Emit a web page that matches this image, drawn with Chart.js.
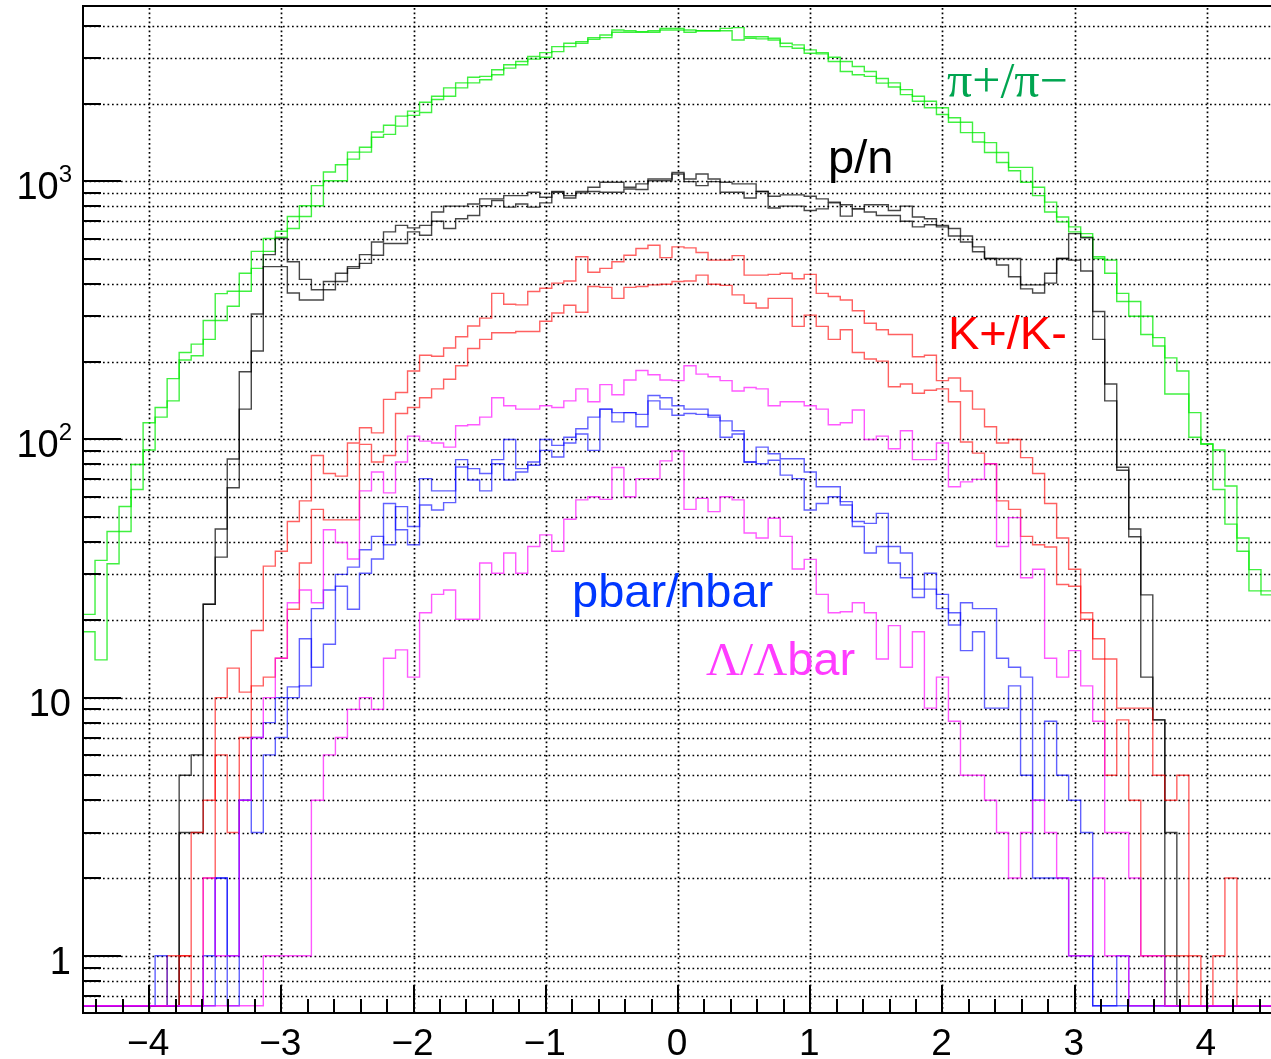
<!DOCTYPE html>
<html><head><meta charset="utf-8">
<script src="https://cdn.jsdelivr.net/npm/chart.js@4.4.1/dist/chart.umd.min.js"></script>
<style>
html,body{margin:0;padding:0;background:#fff;overflow:hidden;}
#wrap{width:1271px;height:1059px;overflow:hidden;position:relative;background:#fff;}
canvas{display:block;}
</style></head><body>
<div id="wrap"><canvas id="c" width="1280" height="1059"></canvas></div>
<script>
// ---- binning / axes ----
const X_MIN = -4.5, X_MAX = 4.5, N_BINS = 99;
const Y_MIN = 0.64, Y_MAX = 4775;
const xTickValues = [-4, -3, -2, -1, 0, 1, 2, 3, 4];
const xTickLabels = ['\u22124', '\u22123', '\u22122', '\u22121', '0', '1', '2', '3', '4'];
const yDecades = [1, 10, 100, 1000];
const yDecadeBase = ['1', '10', '10', '10'];
const yDecadeSup = ['', '', '2', '3'];
const yGridValues = [0.7, 0.8, 0.9,
  1, 2, 3, 4, 5, 6, 7, 8, 9,
  10, 20, 30, 40, 50, 60, 70, 80, 90,
  100, 200, 300, 400, 500, 600, 700, 800, 900,
  1000, 2000, 3000, 4000];

// ---- series (counts per bin, 99 bins from -4.5 to 4.5) ----
const piPlus = [21,34,44,55,80,116,133,172,217,234,
289,367,375,440,535,600,640,730,804,962,
1086,1159,1297,1354,1552,1648,1788,1870,2024,2135,
2300,2405,2530,2548,2704,2826,2910,3043,3150,3323,
3426,3475,3600,3686,3855,3830,3800,3830,3910,3910,
3855,3830,3830,3910,3936,3630,3630,3580,3426,3375,
3228,3150,3025,2910,2785,2663,2500,2405,2265,2135,
2042,1926,1762,1694,1543,1412,1293,1132,1132,948,
830,727,666,627,510,495,368,342,300,248,
207,184,127,96,91,66,41.5,31.3,25.9];
const piMinus = [18,14,33,44,64,91,122,141,203,211,
244,289,328,375,460,535,607,656,730,804,
1005,1005,1219,1297,1480,1520,1636,1800,1848,2074,
2135,2300,2405,2473,2587,2744,2826,2972,3025,3178,
3323,3426,3550,3600,3777,3777,3777,3777,3855,3855,
3777,3830,3830,3830,3525,3580,3560,3525,3323,3277,
3133,3115,2910,2663,2587,2548,2400,2318,2166,2042,
1926,1815,1694,1543,1420,1293,1183,1099,991,880,
760,696,637,609,502,440,342,300,255,230,
150,150,102,96,64,47,36.9,25.9,25.0];
const proton = [0,0,0,0,0,0,0,0,5,6,
23,45,84,183,306,520,600,488,417,380,
409,440,467,520,582,637,675,660,675,760,
801,801,817,855,855,880,880,907,867,913,
880,913,948,991,991,948,977,1021,1021,1083,
1021,1067,1021,991,977,977,913,875,886,886,
875,855,830,811,782,811,811,771,801,727,
716,675,656,614,557,502,474,427,397,397,
440,502,627,604,313,164,78,45,25,8.2,
3,0,0,0,0,0,0,0,0];
const neutron = [0,0,0,0,0,0,0,0,3,3,
23,35,65,131,220,467,467,369,347,347,
380,409,460,481,517,574,574,637,618,700,
656,716,737,805,842,794,817,794,825,907,
861,902,913,907,907,934,929,1005,1005,1067,
997,962,997,907,907,861,913,788,801,801,
771,782,825,733,782,760,737,737,700,666,
679,666,614,582,533,502,502,502,383,369,
403,502,495,449,244,141,76,42,12,8.2,
0,0,0,0,0,0,0,0,0];
const kPlus = [0,0,0,0,0,0,0,1,1,3,
4,10,13,10.5,18.2,32.3,36.9,48.1,57.8,86.7,
73.8,72.1,96.8,111,106,143,152,184,212,210,
226,250,275,295,368,334,332,374,385,403,
411,510,444,460,488,517,549,565,506,557,
552,530,495,495,515,433,433,436,440,419,
436,368,358,347,315,282,266,255,255,209,
212,169,173,154,131,112,96.8,100,85,73.8,
56.5,41.5,31.4,21.3,16.9,14.1,9.1,9.1,9.1,5,
4,5,0,0,0,0,0,0,0];
const kMinus = [0,0,0,0,0,0,0,0,1,0,
2,6,3,7,11.1,12,14.2,22,33.2,53.6,
48.8,48.8,48.8,95.7,81.8,86.7,126,133,145,157,
171,193,225,244,259,259,262,262,287,309,
331,311,391,388,352,388,391,397,399,409,
411,433,399,395,363,337,323,352,352,274,
303,274,244,266,217,205,201,160,164,151,
155,157,140,97.7,88.5,80.5,57.8,53.6,42.1,39.1,
38.3,27.4,27,20.1,14.1,5,8.2,4,1,1,
1,1,1,0,1,2,0,0,0];
const pbar = [0,0,0,0,0,0,1,0,0,0,
0,2,0,4,7,8,10,11,16.9,13.1,
16.1,30,32,37.4,42.1,39.1,54.9,46,70.5,63.2,
63.2,83.5,77.1,73.8,83.5,100,77.1,81.8,100,94.8,
102,110,122,131,117,127,125,148,145,135,
131,131,124,118,108,81.8,93.4,88,84.2,84.2,
74.8,65.6,65.6,57.4,48.1,47.3,51.7,33.2,29.1,24.4,
30.3,22.1,19.1,23.3,22.1,22.1,14.2,13.1,12,4,
8.1,5,4,3,0,0,1,0,0,0,
0,0,0,0,0,0,0,0,0];
const nbar = [0,0,0,0,0,0,0,0,0,0,
1,2,1,4,3,6,7,10,11.1,22.1,
26.1,27,22,30.3,34.4,56.5,44.7,39.1,55.7,53.3,
56.9,78.2,69.6,63.2,80.5,69.6,74.8,79.4,90.7,85.5,
96.8,105,90.7,131,127,127,112,141,131,124,
126,125,122,102,105,81.8,80.5,83,72.7,70.5,
53.3,56.5,60,55.7,46,36.3,38.5,38.5,36.3,26.3,
26.3,25.1,21.3,15.2,18,9.1,9.1,11.1,5,2,
2,2,1,1,0,0,0,0,0,0,
0,0,0,0,0,0,0,0,0];
const lambda = [0,0,0,0,0,0,0,0,0,0,
2,1,1,4,7,10,14.2,23.3,26.1,23.3,
44.7,39.9,34.4,63.2,74.8,62.1,81.8,103,98.5,96.8,
93.4,113,114,122,145,135,131,131,135,133,
141,157,140,163,149,170,185,178,170,169,
193,179,175,169,154,159,157,135,140,140,
135,131,114,116,130,100,103,92,108,83.5,
83.5,96.8,65.6,68.5,70,80.5,38.5,49.8,29.1,31.4,
14.2,12,15.2,11.1,8.1,3,3,2,1,1,
0,0,0,0,0,0,0,0,0];
const lambdaBar = [0,0,0,0,0,0,0,0,0,0,
0,0,0,0,0,1,1,1,1,4,
6,7,9,10,9,14.2,15.3,12,21.3,25.1,
26.1,20.1,20.1,33.2,30.3,36.3,30.3,38.5,42.7,36.9,
49.1,58.3,60,58.6,77.8,60,70.5,70.5,82.6,90.2,
53.6,59.1,52.5,60,58.3,43.4,41.5,49.5,42.1,31.5,
34.3,25.1,21.3,21.5,23.3,21.3,14.1,19,13.1,18,
9.1,12,8.1,5,5,4,3,2,3,4,
3,2,1,1,2,1,1,0,0,0,
0,0,0,0,0,0,0,0,0];

// ---- build step points (left bin edges + final right edge); empty bins sit on the axis floor ----
function stepPoints(vals) {
  const w = (X_MAX - X_MIN) / N_BINS;
  const pts = vals.map((v, k) => ({ x: X_MIN + k * w, y: v > 0 ? v : Y_MIN }));
  const last = vals[vals.length - 1];
  pts.push({ x: X_MAX, y: last > 0 ? last : Y_MIN });
  return pts;
}
function ds(label, vals, color) {
  return { label, data: stepPoints(vals), borderColor: color, borderWidth: 1.4,
           stepped: 'before', pointRadius: 0, fill: false, tension: 0 };
}

const GREEN = 'rgba(0,235,0,0.75)', BLACK = 'rgba(0,0,0,0.72)', RED = 'rgba(255,0,0,0.62)',
      BLUE = 'rgba(0,0,255,0.62)', MAGENTA = 'rgba(255,0,255,0.65)';

// first dataset is drawn on top
const datasets = [
  ds('Lambda', lambda, MAGENTA), ds('Lambdabar', lambdaBar, MAGENTA),
  ds('pbar', pbar, BLUE), ds('nbar', nbar, BLUE),
  ds('K+', kPlus, RED), ds('K-', kMinus, RED),
  ds('p', proton, BLACK), ds('n', neutron, BLACK),
  ds('pi+', piPlus, GREEN), ds('pi-', piMinus, GREEN)
];

const rootStyle = {
  id: 'rootStyle',
  beforeDatasetsDraw(chart) {
    const { ctx, chartArea: a, scales: { x, y } } = chart;
    ctx.save();
    ctx.beginPath(); ctx.rect(a.left, a.top, a.right - a.left, a.bottom - a.top); ctx.clip();
    ctx.strokeStyle = '#000'; ctx.lineWidth = 1.7; ctx.setLineDash([1.7, 2.8]);
    y.ticks.forEach(t => {
      const py = Math.round(y.getPixelForValue(t.value)) + 0.5;
      ctx.beginPath(); ctx.moveTo(a.left + 2, py); ctx.lineTo(a.right, py); ctx.stroke();
    });
    x.ticks.forEach(t => {
      const px = Math.round(x.getPixelForValue(t.value)) + 0.5;
      ctx.beginPath(); ctx.moveTo(px, a.top + 2); ctx.lineTo(px, a.bottom); ctx.stroke();
    });
    ctx.restore();
  },
  afterDatasetsDraw(chart) {
    const { ctx, chartArea: a, scales: { x, y } } = chart;
    ctx.save();
    ctx.setLineDash([]);
    ctx.strokeStyle = '#000';
    ctx.fillStyle = '#000';
    // tick marks + labels on y axis
    ctx.lineWidth = 2;
    y.ticks.forEach(t => {
      const lg = Math.log10(t.value);
      const major = Math.abs(lg - Math.round(lg)) < 1e-9;
      const py = Math.round(y.getPixelForValue(t.value));
      ctx.beginPath(); ctx.moveTo(a.left, py); ctx.lineTo(a.left + (major ? 38 : 18), py); ctx.stroke();
    });
    ctx.textAlign = 'right'; ctx.textBaseline = 'alphabetic';
    yDecades.forEach((v, i) => {
      const py = y.getPixelForValue(v);
      let right = 72;
      if (yDecadeSup[i]) {
        ctx.font = '24px "Liberation Sans"';
        ctx.fillText(yDecadeSup[i], right, py + 1);
        right -= ctx.measureText(yDecadeSup[i]).width;
      } else {
        right = 71;
      }
      ctx.font = '38px "Liberation Sans"';
      ctx.fillText(yDecadeBase[i], right, py + 18);
    });
    // tick marks + labels on x axis (major every 1, minor every 0.2)
    for (let i = -22; i <= 22; i++) {
      const v = i * 0.2;
      const major = i % 5 === 0;
      const px = Math.round(x.getPixelForValue(v));
      ctx.beginPath(); ctx.moveTo(px, a.bottom); ctx.lineTo(px, a.bottom - (major ? 28 : 14)); ctx.stroke();
    }
    ctx.textAlign = 'center';
    ctx.font = '37px "Liberation Sans"';
    xTickValues.forEach((v, i) => {
      ctx.fillText(xTickLabels[i], x.getPixelForValue(v) - 1, 1055);
    });
    // frame
    ctx.lineWidth = 2;
    ctx.strokeRect(a.left, a.top, a.right - a.left, a.bottom - a.top);
    // text labels
    ctx.textBaseline = 'alphabetic'; ctx.textAlign = 'left';
    ctx.font = '50px "Liberation Serif"'; ctx.fillStyle = 'rgb(0,165,80)';
    ctx.fillText('\u03C0+/\u03C0\u2212', 947, 97);
    ctx.font = '47px "Liberation Sans"'; ctx.fillStyle = '#000';
    ctx.fillText('p/n', 828, 173);
    ctx.fillStyle = '#ff0000';
    ctx.fillText('K+/K-', 948, 349);
    ctx.fillStyle = 'rgb(0,55,255)';
    ctx.fillText('pbar/nbar', 572, 607);
    ctx.fillStyle = 'rgb(255,60,255)';
    ctx.font = '47px "Liberation Serif"';
    const lam = '\u039B/\u039B';
    ctx.fillText(lam, 706, 675);
    const w = ctx.measureText(lam).width;
    ctx.font = '47px "Liberation Sans"';
    ctx.fillText('bar', 706 + w, 675);
    ctx.restore();
  }
};

new Chart(document.getElementById('c'), {
  type: 'line',
  data: { datasets },
  options: {
    responsive: false, animation: false, events: [],
    layout: { padding: { left: 0, right: 7, top: 6, bottom: 0 } },
    plugins: { legend: { display: false }, tooltip: { enabled: false } },
    scales: {
      x: {
        type: 'linear', min: X_MIN, max: X_MAX,
        grid: { display: false, drawTicks: false }, border: { display: false },
        afterBuildTicks: s => { s.ticks = xTickValues.map(v => ({ value: v })); },
        afterFit: s => { s.height = 46; s.paddingLeft = 0; s.paddingRight = 0; },
        ticks: { display: false, autoSkip: false, maxRotation: 0 }
      },
      y: {
        type: 'logarithmic', min: Y_MIN, max: Y_MAX,
        grid: { display: false, drawTicks: false }, border: { display: false },
        afterBuildTicks: s => { s.ticks = yGridValues.map(v => ({ value: v })); },
        afterFit: s => { s.width = 83; s.paddingTop = 0; s.paddingBottom = 0; },
        ticks: { display: false, autoSkip: false }
      }
    }
  },
  plugins: [rootStyle]
});
</script>
</body></html>
